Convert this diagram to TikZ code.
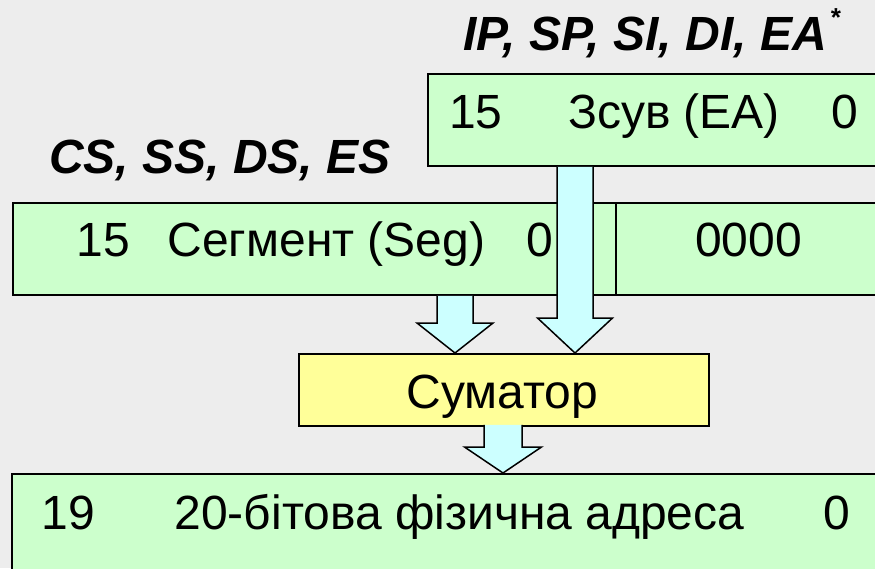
\documentclass[tikz,border=0pt]{standalone}
\usepackage{fontspec}
\setmainfont{Liberation Sans}
\usetikzlibrary{calc}
\definecolor{bg}{RGB}{237,237,237}
\definecolor{regfill}{RGB}{204,255,204}
\definecolor{arrfill}{RGB}{204,255,255}
\definecolor{sumfill}{RGB}{255,255,153}

\begin{document}
\begin{tikzpicture}[x=1pt,y=-1pt,
  box/.style={draw=black, line width=1.8pt, inner sep=0pt, anchor=north west},
  reg/.style={box, fill=regfill},
  txt/.style={inner sep=0pt, anchor=base, font=\fontsize{48}{56}\selectfont},
  lbl/.style={inner sep=0pt, anchor=base west, font=\fontsize{48}{56}\selectfont\bfseries\itshape},
  % wide block arrow between two points: shaft half width, head half width, head length
  blockarrow/.style n args={3}{to path={let \p1=(\tikztostart), \p2=(\tikztotarget) in
    (\x1-#1,\y1) -- (\x1-#1,\y2+#3) -- (\x1-#2,\y2+#3) -- (\x2,\y2)
    -- (\x1+#2,\y2+#3) -- (\x1+#1,\y2+#3) -- (\x1+#1,\y1)}},
  arr/.style={fill=arrfill, draw=black, line width=1.5pt, line join=miter}
]
\useasboundingbox (0,0) rectangle (875,568);
\clip (0,0) rectangle (875,568);
\fill[bg] (0,0) rectangle (875,568);

% registers
\node[reg, minimum width=458pt, minimum height=92pt] (off) at (427,73) {};
\node[reg, minimum width=873pt, minimum height=92pt] (seg) at (12,202) {};
\coordinate (dv) at (616,0);
\draw[line width=1.8pt] (seg.north -| dv) -- (seg.south -| dv);

\node[txt] (offhi) at (476,128) {15};
\node[txt] (offname) at (674,128) {Зсув (EA)};
\node[txt] (offlo) at (845,128) {0};

\node[txt] (seghi) at (103.5,256) {15};
\node[txt] (segname) at (326.5,256) {Сегмент (Seg)};
\node[txt] (seglo) at (539.5,256) {0};
\node[txt] (zeros) at (748.5,256) {0000};

\node[lbl] (seglbl) at (49,173) {CS, SS, DS, ES};
\node[lbl] (offlbl) at (463,50) {IP, SP, SI, DI, EA\hspace{3pt}\raisebox{24pt}{\fontsize{26}{30}\selectfont *}};

% adder
\node[box, fill=sumfill, minimum width=410pt, minimum height=72pt] (sum) at (298,353) {};
\node[txt] (sumtxt) at (502.5,408) {Суматор};

% physical address
\node[reg, minimum width=874pt, minimum height=110pt] (phys) at (11,473) {};
\node[txt] (physhi) at (68.5,529) {19};
\node[txt] (physname) at (459.5,529) {20-бітова фізична адреса};
\node[txt] (physlo) at (837,529) {0};

% data flow arrows
\coordinate (xa) at (575,0);
\coordinate (xb) at (455,0);
\coordinate (xc) at (503,0);
\filldraw[arr] (off.south -| xa) to[blockarrow={18pt}{37.5pt}{35pt}] (sum.north -| xa);
\filldraw[arr] (seg.south -| xb) to[blockarrow={18pt}{38pt}{30pt}] (sum.north -| xb);
\filldraw[arr] ($(sum.south -| xc)+(0,-2)$) to[blockarrow={19pt}{38.5pt}{26pt}] (phys.north -| xc);
\end{tikzpicture}
\end{document}
